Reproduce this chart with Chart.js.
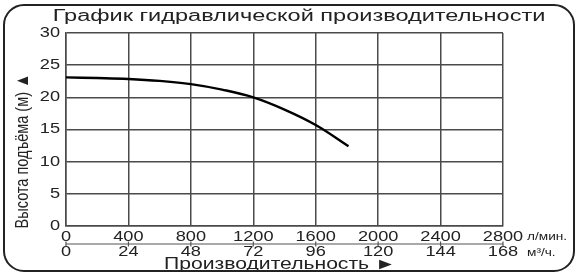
<!DOCTYPE html>
<html>
<head>
<meta charset="utf-8">
<script src="https://cdn.jsdelivr.net/npm/chart.js@4.4.1/dist/chart.umd.min.js"></script>
<style>
  html, body { margin: 0; padding: 0; background: #ffffff; }
  #wrap { width: 583px; height: 279px; position: relative; }
</style>
</head>
<body>
<div id="wrap"><canvas id="myChart" width="583" height="279"></canvas></div>
<script>
// data
const flowLpm = [0, 200, 400, 600, 800, 1000, 1200, 1400, 1600, 1810];
const headM = [23.1, 23.0, 22.85, 22.55, 22.05, 21.2, 20.0, 18.1, 15.7, 12.4];
const lpmTicks = [0, 400, 800, 1200, 1600, 2000, 2400, 2800];
const m3hTicks = [0, 24, 48, 72, 96, 120, 144, 168];
const headTicks = [0, 5, 10, 15, 20, 25, 30];

const titleText = "График гидравлической производительности";
const yTitle = "Высота подъёма (м) ▲";
const xTitle = "Производительность ►";
const lpmUnit = "л/мин.";
const m3hUnit = "м³/ч.";

const fontName = "'Liberation Sans', Arial, sans-serif";
const ink = "#222222";
const gridInk = "#4a4a4a";

const ctx = document.getElementById("myChart");

// the scanned picture is stretched sideways, so the lettering is too
function wideText(c, text, x, y, size, sx, align) {
    c.save();
    c.font = size + "px " + fontName;
    c.textBaseline = "middle";
    c.textAlign = align;
    c.translate(x, y);
    c.scale(sx, 1);
    c.fillText(text, 0, 0);
    c.restore();
}

const decorPlugin = {
    id: "decor",
    beforeDraw(chart) {
        const c = chart.ctx;
        c.save();
        c.fillStyle = "#ffffff";
        c.fillRect(0, 0, chart.width, chart.height);
        c.strokeStyle = ink;
        c.lineWidth = 2;
        c.beginPath();
        c.roundRect(4, 5, 570, 266, 20);
        c.stroke();
        c.restore();
    },
    afterDraw(chart) {
        const c = chart.ctx;
        const x = chart.scales.x;
        const x2 = chart.scales.x2;
        const y = chart.scales.y;
        c.save();
        c.fillStyle = ink;

        wideText(c, titleText, 299, 17, 16, 1.47, "center");
        wideText(c, xTitle, 280, 265, 16, 1.32, "center");

        // tick labels, placed by the chart's own scales
        x.ticks.forEach(t => wideText(c, String(t.value), x.getPixelForValue(t.value), 237, 14, 1.3, "center"));
        x2.ticks.forEach(t => wideText(c, String(t.value), x2.getPixelForValue(t.value), 252, 14, 1.3, "center"));
        y.ticks.forEach(t => wideText(c, String(t.value), 60, y.getPixelForValue(t.value), 14, 1.3, "right"));

        wideText(c, lpmUnit, 527, 237, 10.5, 1.3, "left");
        wideText(c, m3hUnit, 527, 253, 10.5, 1.3, "left");

        // line between the two rows of tick labels
        const ly = 244;
        c.strokeStyle = "#555555";
        c.lineWidth = 1.2;
        c.beginPath();
        c.moveTo(x2.getPixelForValue(0), ly);
        c.lineTo(x2.getPixelForValue(168), ly);
        x2.ticks.forEach(t => {
            const px = x2.getPixelForValue(t.value);
            c.moveTo(px, ly - 2.5);
            c.lineTo(px, ly + 2.5);
        });
        c.stroke();

        // y axis title
        c.translate(23, 151);
        c.rotate(-Math.PI / 2);
        c.scale(1, 1.3);
        c.font = "14.5px " + fontName;
        c.textAlign = "center";
        c.textBaseline = "middle";
        c.fillText(yTitle, 0, 0);
        c.restore();
    }
};

new Chart(ctx, {
    type: "line",
    data: {
        datasets: [{
            label: "Напор",
            data: flowLpm.map((f, i) => ({ x: f, y: headM[i] })),
            borderColor: "#000000",
            borderWidth: 2.4,
            pointRadius: 0,
            fill: false,
            tension: 0.4,
            xAxisID: "x",
            yAxisID: "y"
        }]
    },
    options: {
        responsive: false,
        animation: false,
        layout: { padding: { top: 33, right: 80, left: 0, bottom: 19 } },
        plugins: {
            legend: { display: false },
            tooltip: { enabled: false }
        },
        scales: {
            x: {
                type: "linear",
                position: "bottom",
                min: 0,
                max: 2800,
                afterBuildTicks: s => { s.ticks = lpmTicks.map(v => ({ value: v })); },
                afterFit: s => { s.height = 17; },
                ticks: { display: false },
                grid: { color: gridInk, lineWidth: 1.5, drawTicks: false },
                border: { color: gridInk, width: 1.5 }
            },
            x2: {
                type: "linear",
                position: "bottom",
                min: 0,
                max: 168,
                afterBuildTicks: s => { s.ticks = m3hTicks.map(v => ({ value: v })); },
                afterFit: s => { s.height = 17; },
                ticks: { display: false },
                grid: { display: false, drawTicks: false },
                border: { display: false }
            },
            y: {
                type: "linear",
                min: 0,
                max: 30,
                afterBuildTicks: s => { s.ticks = headTicks.map(v => ({ value: v })); },
                afterFit: s => { s.width = 66; },
                ticks: { display: false },
                grid: { color: gridInk, lineWidth: 1.5, drawTicks: false },
                border: { color: gridInk, width: 1.5 }
            }
        }
    },
    plugins: [decorPlugin]
});
</script>
</body>
</html>
